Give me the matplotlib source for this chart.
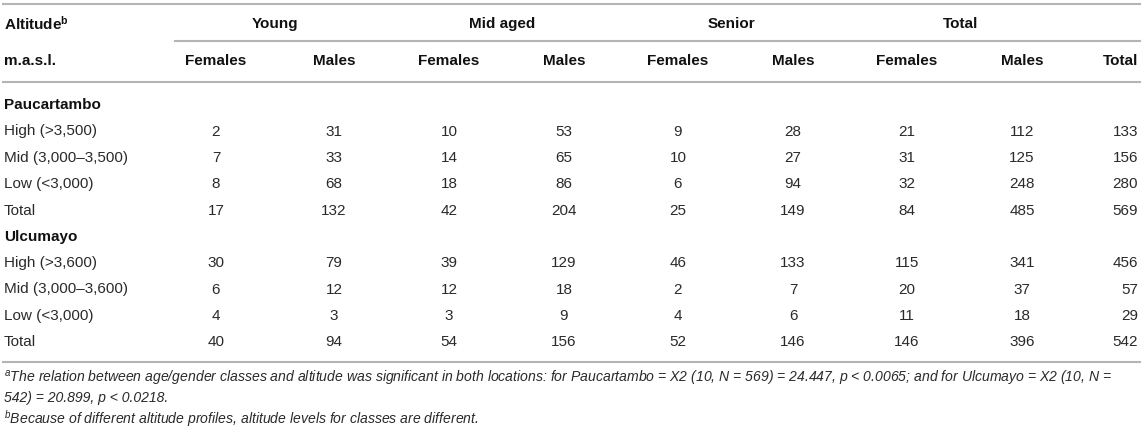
import matplotlib
matplotlib.use("Agg")
import matplotlib.pyplot as plt
from matplotlib.lines import Line2D

plt.rcParams['font.family'] = ['Liberation Sans', 'DejaVu Sans']
plt.rcParams['mathtext.fontset'] = 'custom'
plt.rcParams['mathtext.rm'] = 'Liberation Sans'
plt.rcParams['mathtext.it'] = 'Liberation Sans:italic'
plt.rcParams['mathtext.bf'] = 'Liberation Sans:bold'

# ---- data ----
groups = ["Young", "Mid aged", "Senior", "Total"]
subheaders = ["Females", "Males", "Females", "Males", "Females", "Males",
              "Females", "Males", "Total"]
location1 = "Paucartambo"
rows1 = ["High (>3,500)", "Mid (3,000–3,500)", "Low (<3,000)", "Total"]
vals1 = [
    [2, 31, 10, 53, 9, 28, 21, 112, 133],
    [7, 33, 14, 65, 10, 27, 31, 125, 156],
    [8, 68, 18, 86, 6, 94, 32, 248, 280],
    [17, 132, 42, 204, 25, 149, 84, 485, 569],
]
location2 = "Ulcumayo"
rows2 = ["High (>3,600)", "Mid (3,000–3,600)", "Low (<3,000)", "Total"]
vals2 = [
    [30, 79, 39, 129, 46, 133, 115, 341, 456],
    [6, 12, 12, 18, 2, 7, 20, 37, 57],
    [4, 3, 3, 9, 4, 6, 11, 18, 29],
    [40, 94, 54, 156, 52, 146, 146, 396, 542],
]
footnote_a1 = ("$^{a}$The relation between age/gender classes and altitude was significant in both "
               "locations: for Paucartambo = X2 (10, N = 569) = 24.447, p < 0.0065; and for Ulcumayo = X2 (10, N =")
footnote_a2 = "542) = 20.899, p < 0.0218."
footnote_b = "$^{b}$Because of different altitude profiles, altitude levels for classes are different."

# ---- layout (pixels) ----
W, H = 1145, 433
fig = plt.figure(figsize=(W / 100, H / 100), dpi=100)
fig.patch.set_facecolor("white")

def fx(x):
    return x / W

def fy(y):
    return 1 - y / H

def hline(x0, x1, y, lw=1.5, color="#b4b4b4"):
    fig.add_artist(Line2D([fx(x0), fx(x1)], [fy(y), fy(y)], lw=lw, color=color))

col_x = [216, 334, 449, 564, 678, 793, 907, 1022, 1138]
col_ha = ["center"] * 8 + ["right"]
group_x = [275, 502, 731, 961]
fs = 11.0
txt_col = "#2a2a2a"
hdr_col = "#111111"

hline(3, 1140, 4)
hline(175, 1140, 41)
hline(3, 1140, 82)
hline(3, 1140, 362)

# header
fig.text(fx(4), fy(24), r"Altitude$^{\mathbf{b}}$", fontsize=fs, fontweight="bold",
         ha="left", va="center", color=hdr_col)
for gx, g in zip(group_x, groups):
    fig.text(fx(gx), fy(24), g, fontsize=fs, fontweight="bold", ha="center", va="center",
             color=hdr_col)
fig.text(fx(4), fy(61), "m.a.s.l.", fontsize=fs, fontweight="bold", ha="left", va="center",
         color=hdr_col)
for x, ha, s in zip(col_x, col_ha, subheaders):
    fig.text(fx(x), fy(61), s, fontsize=fs, fontweight="bold", ha=ha, va="center",
             color=hdr_col)

def block(y0, loc, rows, vals):
    fig.text(fx(4), fy(y0), loc, fontsize=fs, fontweight="bold", ha="left", va="center",
             color=hdr_col)
    for r, (lab, vv) in enumerate(zip(rows, vals)):
        y = y0 + 26.5 * (r + 1)
        fig.text(fx(4), fy(y), lab, fontsize=fs, ha="left", va="center", color=txt_col)
        for x, ha, v in zip(col_x, col_ha, vv):
            fig.text(fx(x), fy(y), str(v), fontsize=fs, ha=ha, va="center", color=txt_col)

block(105, location1, rows1, vals1)
block(236.5, location2, rows2, vals2)

ffs = 10.1
fig.text(fx(4), fy(379), footnote_a1, fontsize=ffs, style="italic", ha="left", va="center",
         color=txt_col)
fig.text(fx(4), fy(398), footnote_a2, fontsize=ffs, style="italic", ha="left", va="center",
         color=txt_col)
fig.text(fx(4), fy(419), footnote_b, fontsize=ffs, style="italic", ha="left", va="center",
         color=txt_col)

fig.savefig("out.png", dpi=100, facecolor="white")
